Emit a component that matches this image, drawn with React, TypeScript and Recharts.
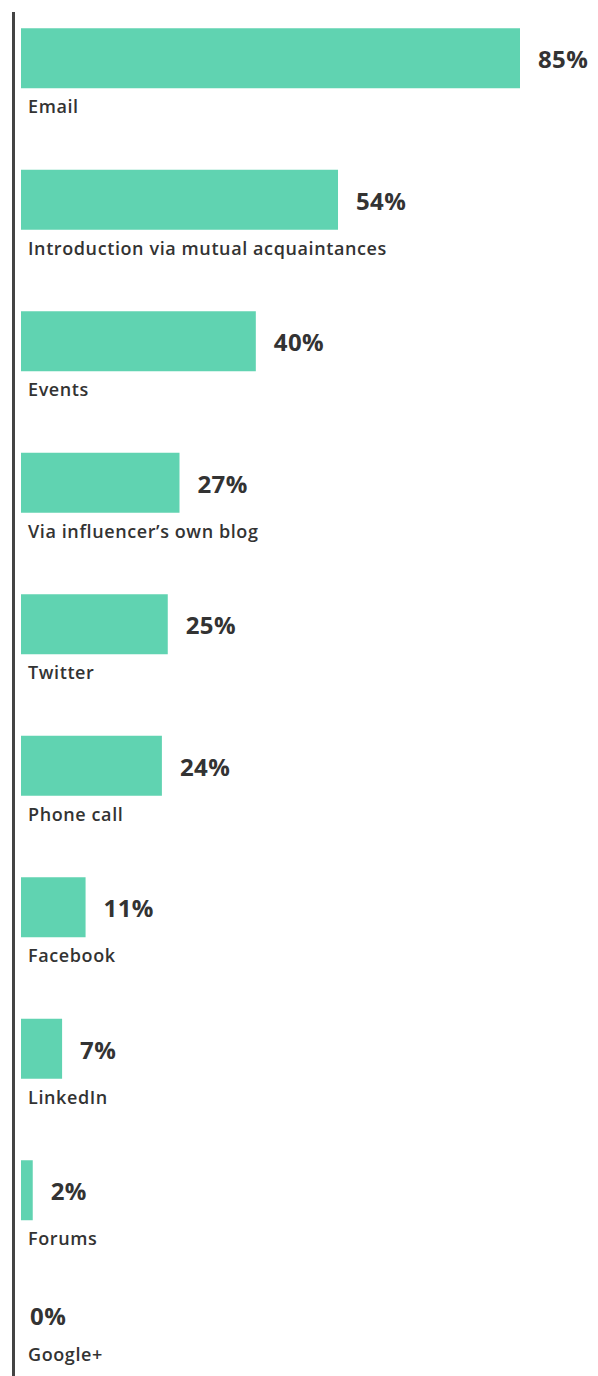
import React from 'react';
import { BarChart, Bar, XAxis, YAxis, LabelList } from 'recharts';

const categories = [
  'Email',
  'Introduction via mutual acquaintances',
  'Events',
  'Via influencer’s own blog',
  'Twitter',
  'Phone call',
  'Facebook',
  'LinkedIn',
  'Forums',
  'Google+',
];
const shares = [85, 54, 40, 27, 25, 24, 11, 7, 2, 0];

const data = categories.map((name, i) => ({ name, share: shares[i] }));

const FONT = '"Open Sans", sans-serif';
const TEXT = '#333333';
const BAR_SIZE = 60;

const valueStyle = { fontFamily: FONT, fontSize: 24, fontWeight: 700, letterSpacing: 0.4 };
const nameStyle = { fontFamily: FONT, fontSize: 18, fontWeight: 600, letterSpacing: 0.6 };

// value to the right of the bar
const ValueLabel = (props: any) => {
  const { x, y, width, height, index } = props;
  const v = shares[index];
  if (!v) return null;
  return (
    <text x={x + width + 18} y={y + height / 2 + 10} fill={TEXT} style={valueStyle}>
      {v}%
    </text>
  );
};

// category name under the bar (and the lone value when there is no bar)
const NameTick = (props: any) => {
  const { y, payload } = props;
  const idx = categories.indexOf(payload.value);
  const v = shares[idx];
  const rowTop = y - BAR_SIZE / 2;
  if (v === 0) {
    return (
      <g>
        <text x={30} y={rowTop + 23} fill={TEXT} style={valueStyle}>
          {v}%
        </text>
        <text x={28} y={rowTop + 59.5} fill={TEXT} style={nameStyle}>
          {payload.value}
        </text>
      </g>
    );
  }
  return (
    <text x={28} y={rowTop + BAR_SIZE + 25} fill={TEXT} style={nameStyle}>
      {payload.value}
    </text>
  );
};

export default function App() {
  return (
    <div style={{ position: 'absolute', left: 0, top: 0 }}>
      <BarChart
        width={598}
        height={1376}
        data={data}
        layout="vertical"
        barSize={BAR_SIZE}
        margin={{ top: 12, right: 78, bottom: 0, left: 0 }}
      >
        <XAxis type="number" domain={[0, 85]} hide padding={{ left: 7.5, right: 0 }} />
        <YAxis
          type="category"
          dataKey="name"
          width={13.5}
          tick={NameTick}
          tickLine={false}
          interval={0}
          axisLine={{ stroke: '#444444', strokeWidth: 3 }}
          padding={{ top: -24.75, bottom: -26.25 }}
        />
        <Bar dataKey="share" fill="#60D3B1" isAnimationActive={false}>
          <LabelList dataKey="share" content={ValueLabel} />
        </Bar>
      </BarChart>
    </div>
  );
}
